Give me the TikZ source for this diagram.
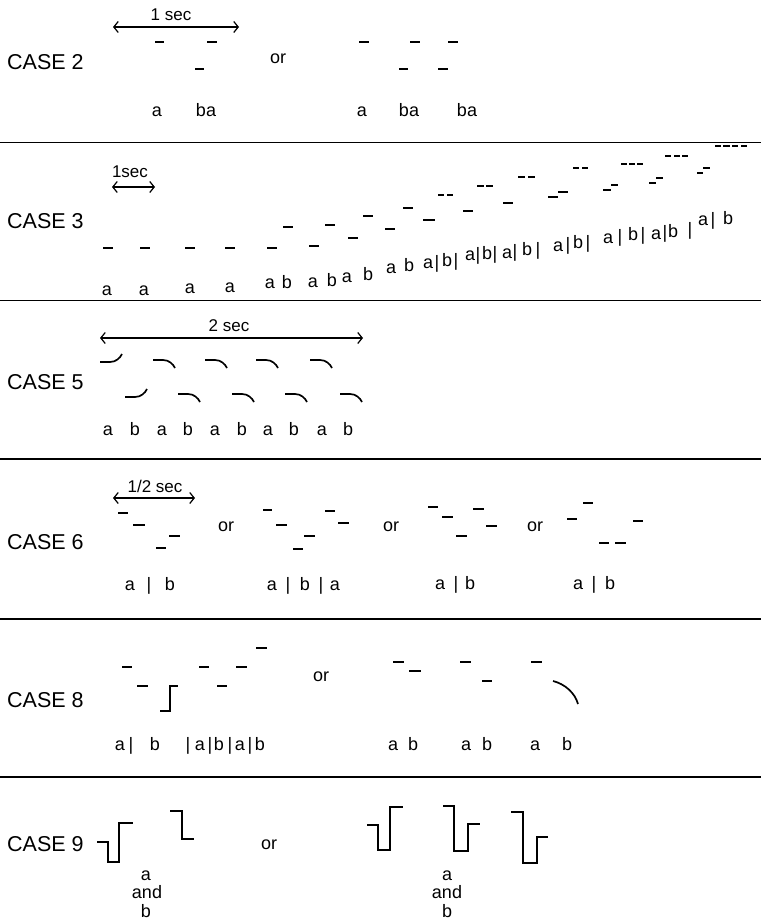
\documentclass[tikz,border=0pt]{standalone}
\usepackage{fontspec}
\setmainfont{Liberation Sans}
\usetikzlibrary{arrows.meta}
\newcommand\dseg[3]{\draw[seg] (#1,#3) -- (#2,#3);}
\newcommand\lbl[4]{\node[lab] (#1) at (#2,#3) {#4};}
\newcommand\cvup[2]{\draw[wave] (#1,#2) -- ++(10,0) .. controls +(6,0) and +(-2,4) .. ++(12,-8);}
\newcommand\cvdn[2]{\draw[wave] (#1,#2) -- ++(10,0) .. controls +(6,0) and +(-2,-4) .. ++(12,8);}
\begin{document}
\begin{tikzpicture}[x=1pt,y=-1pt,
  seg/.style={line width=1.9pt},
  sep/.style={line width=1.8pt},
  span/.style={line width=1.2pt,{Straight Barb[length=4.5pt,width=11pt]}-{Straight Barb[length=4.5pt,width=11pt]}},
  casel/.style={anchor=base west,font=\fontsize{21.5}{24}\selectfont,inner sep=0pt},
  lab/.style={anchor=base,font=\fontsize{18}{20}\selectfont,inner sep=0pt},
  orl/.style={font=\fontsize{18}{20}\selectfont,inner sep=0pt},
  secl/.style={font=\fontsize{17}{19}\selectfont,inner sep=0pt},
  wave/.style={line width=1.7pt},
  stepl/.style={line width=1.7pt,line join=miter}
]
\useasboundingbox (0,0) rectangle (761,920);

% separators
\foreach \yy/\nm in {142.5/s1,300.5/s2,459/s3,619/s4,777/s5}{
  \coordinate (\nm l) at (0,\yy); \coordinate (\nm r) at (761,\yy);
  \draw[sep] (\nm l) -- (\nm r);
}

% ---------------- CASE 2
\node[casel] (case2) at (7,70) {CASE 2};
\node[secl] (sec1) at (171,15) {1 sec};
\coordinate (a2l) at (113,27); \coordinate (a2r) at (239,27);
\draw[span] (a2l) -- (a2r);
\dseg{155}{164}{42} \dseg{207}{217}{42} \dseg{195}{204}{69}
\node[orl] (or2) at (278,59) {or};
\dseg{359}{369}{42} \dseg{410}{420}{42} \dseg{448}{458}{42}
\dseg{399}{408}{69} \dseg{438}{448}{69}
\lbl{c2a}{157}{117}{a}
\lbl{c2b}{206}{117}{ba}
\lbl{c2c}{362}{117}{a}
\lbl{c2d}{409}{117}{ba}
\lbl{c2e}{467}{117}{ba}

% ---------------- CASE 3
\node[casel] (case3) at (7,228) {CASE 3};
\node[secl] (sec3) at (130,172) {1sec};
\coordinate (a3l) at (112,187); \coordinate (a3r) at (155,187);
\draw[span] (a3l) -- (a3r);
\dseg{103}{113}{248} \dseg{140}{150}{248} \dseg{185}{195}{248}
\dseg{225}{235}{248} \dseg{267}{277}{248}
\dseg{283}{293}{227}
\dseg{309}{319}{246} \dseg{325}{335}{225}
\dseg{348}{358}{238} \dseg{363}{373}{216}
\dseg{385}{395}{229} \dseg{403}{413}{208}
\dseg{423}{435}{220} \dseg{438}{444}{195} \dseg{447}{453}{195}
\dseg{463}{473}{211} \dseg{477}{484}{186} \dseg{486}{493}{186}
\dseg{503}{513}{203} \dseg{518}{525}{177} \dseg{528}{535}{177}
\dseg{548}{558}{197} \dseg{558}{568}{192}
\dseg{573}{579}{168} \dseg{582}{588}{168}
\dseg{603}{611}{190} \dseg{611}{618}{185}
\dseg{621}{627}{164} \dseg{629}{635}{164} \dseg{637}{643}{164}
\dseg{649}{656}{183} \dseg{656}{663}{178}
\dseg{665}{671}{156} \dseg{674}{680}{156} \dseg{682}{688}{156}
\dseg{697}{703}{173} \dseg{703}{710}{168}
\dseg{715}{721}{146} \dseg{723}{730}{146} \dseg{732}{738}{146} \dseg{741}{747}{146}
\lbl{t1}{107}{295}{a} \lbl{t2}{144}{295}{a} \lbl{t3}{190}{293}{a} \lbl{t4}{230}{292}{a}
\lbl{t5}{270}{288}{a} \lbl{t6}{287}{288}{b}
\lbl{t7}{313}{287}{a} \lbl{t8}{332}{286}{b}
\lbl{t9}{347}{282}{a} \lbl{t10}{368}{280}{b}
\lbl{t11}{391}{273}{a} \lbl{t12}{409}{271}{b}
\lbl{t13}{428}{268}{a} \lbl{t14}{437}{268}{|} \lbl{t15}{447}{266}{b} \lbl{t16}{456}{266}{|}
\lbl{t17}{470}{260}{a} \lbl{t18}{478}{260}{|} \lbl{t19}{487}{259}{b} \lbl{t20}{495}{259}{|}
\lbl{t21}{507}{258}{a} \lbl{t22}{515}{257}{|} \lbl{t23}{527}{255}{b} \lbl{t24}{538}{255}{|}
\lbl{t25}{558}{251}{a} \lbl{t26}{568}{250}{|} \lbl{t27}{578}{248}{b} \lbl{t28}{588}{248}{|}
\lbl{t29}{608}{243}{a} \lbl{t30}{620}{242}{|} \lbl{t31}{633}{240}{b} \lbl{t32}{643}{240}{|}
\lbl{t33}{656}{239}{a} \lbl{t34}{665}{238}{|} \lbl{t35}{673}{237}{b} \lbl{t36}{690}{235}{|}
\lbl{t37}{703}{225}{a} \lbl{t38}{713}{225}{|} \lbl{t39}{728}{224}{b}

% ---------------- CASE 5
\node[casel] (case5) at (7,389) {CASE 5};
\node[secl] (sec5) at (229,326) {2 sec};
\coordinate (a5l) at (100,338); \coordinate (a5r) at (363,338);
\draw[span] (a5l) -- (a5r);
\cvup{100}{362}
\cvdn{153}{360} \cvdn{205}{360} \cvdn{256}{360} \cvdn{310}{360}
\cvup{125}{397}
\cvdn{178}{394} \cvdn{232}{394} \cvdn{285}{394} \cvdn{340}{394}
\lbl{f1}{108}{435}{a} \lbl{f2}{135}{435}{b} \lbl{f3}{162}{435}{a} \lbl{f4}{188}{435}{b}
\lbl{f5}{215}{435}{a} \lbl{f6}{242}{435}{b} \lbl{f7}{268}{435}{a} \lbl{f8}{294}{435}{b}
\lbl{f9}{322}{435}{a} \lbl{f10}{348}{435}{b}

% ---------------- CASE 6
\node[casel] (case6) at (7,549) {CASE 6};
\node[secl] (sec6) at (155,486) {1/2 sec};
\coordinate (a6l) at (113,498); \coordinate (a6r) at (195,498);
\draw[span] (a6l) -- (a6r);
\dseg{118}{128}{513} \dseg{133}{145}{525} \dseg{156}{166}{548} \dseg{169}{180}{536}
\node[orl] (or6a) at (226,527) {or};
\dseg{263}{272}{510} \dseg{276}{287}{525} \dseg{293}{303}{549} \dseg{304}{315}{536}
\dseg{325}{335}{511} \dseg{338}{349}{523}
\node[orl] (or6b) at (391,527) {or};
\dseg{428}{438}{507} \dseg{442}{453}{517} \dseg{456}{467}{536} \dseg{473}{484}{509}
\dseg{486}{497}{526}
\node[orl] (or6c) at (535,527) {or};
\dseg{567}{577}{519} \dseg{583}{593}{503} \dseg{599}{609}{543} \dseg{615}{626}{543}
\dseg{633}{643}{521}
\lbl{g1}{130}{590}{a} \lbl{g2}{149}{590}{|} \lbl{g3}{170}{590}{b}
\lbl{g4}{272}{590}{a} \lbl{g5}{288}{590}{|} \lbl{g6}{305}{590}{b} \lbl{g7}{321}{590}{|} \lbl{g8}{335}{590}{a}
\lbl{g9}{440}{589}{a} \lbl{g10}{456}{589}{|} \lbl{g11}{470}{589}{b}
\lbl{g12}{578}{589}{a} \lbl{g13}{594}{589}{|} \lbl{g14}{610}{589}{b}

% ---------------- CASE 8
\node[casel] (case8) at (7,707) {CASE 8};
\dseg{122}{132}{667} \dseg{137}{148}{686}
\draw[stepl] (160,711) -- (170,711) -- (170,686) -- (178,686);
\dseg{199}{209}{667} \dseg{217}{227}{686} \dseg{236}{247}{667} \dseg{256}{267}{648}
\node[orl] (or8) at (321,677) {or};
\dseg{393}{404}{662} \dseg{409}{421}{671}
\dseg{460}{471}{662} \dseg{482}{492}{681}
\dseg{531}{542}{662}
\draw[wave] (553,681) .. controls (565,684) and (575,693) .. (578,704);
\lbl{h1}{120}{750}{a} \lbl{h2}{131}{750}{|} \lbl{h3}{155}{750}{b}
\lbl{h4}{188}{750}{|} \lbl{h5}{200}{750}{a} \lbl{h6}{210}{750}{|} \lbl{h7}{219}{750}{b}
\lbl{h8}{230}{750}{|} \lbl{h9}{240}{750}{a} \lbl{h10}{250}{750}{|} \lbl{h11}{260}{750}{b}
\lbl{h12}{393}{750}{a} \lbl{h13}{413}{750}{b}
\lbl{h14}{466}{750}{a} \lbl{h15}{487}{750}{b}
\lbl{h16}{535}{750}{a} \lbl{h17}{567}{750}{b}

% ---------------- CASE 9
\node[casel] (case9) at (7,851) {CASE 9};
\draw[stepl] (97,842) -- (108,842) -- (108,862) -- (119,862) -- (119,823) -- (133,823);
\draw[stepl] (170,811) -- (182,811) -- (182,839) -- (194,839);
\node[orl] (or9) at (269,845) {or};
\draw[stepl] (367,825) -- (378,825) -- (378,850) -- (390,850) -- (390,807) -- (403,807);
\draw[stepl] (443,806) -- (454,806) -- (454,851) -- (468,851) -- (468,824) -- (480,824);
\draw[stepl] (511,812) -- (523,812) -- (523,863) -- (537,863) -- (537,837) -- (548,837);
\lbl{k1}{146}{880}{a} \lbl{k2}{147}{898}{and} \lbl{k3}{146}{917}{b}
\lbl{k4}{447}{880}{a} \lbl{k5}{447}{898}{and} \lbl{k6}{447}{917}{b}
\end{tikzpicture}
\end{document}
